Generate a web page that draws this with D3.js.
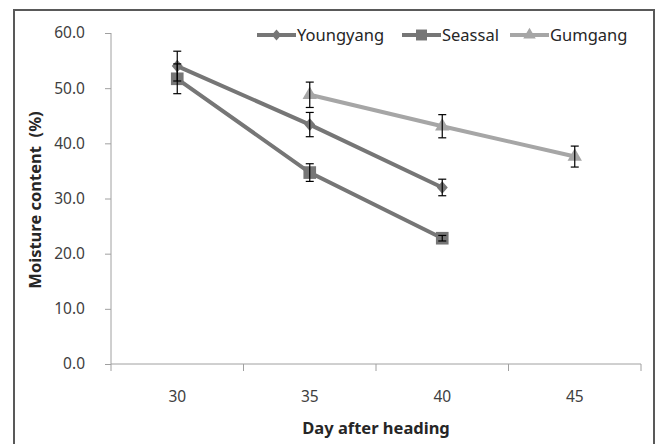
<!DOCTYPE html>
<html><head><meta charset="utf-8">
<script src="https://cdn.jsdelivr.net/npm/d3@7"></script>
<style>body{margin:0;background:#fff}svg{display:block}text{font-family:"Noto Sans",sans-serif}</style>
</head><body>
<svg id="c" width="658" height="444"></svg>
<script>
const days = ["30","35","40","45"];
const yTicks = [0,10,20,30,40,50,60];
const seriesNames = ["Youngyang","Seassal","Gumgang"];
const youngyang = [54.0, 43.4, 32.0, null];
const youngyangErr = [2.7, 2.2, 1.5, null];
const seassal = [51.7, 34.7, 22.8, null];
const seassalErr = [2.7, 1.6, 0.5, null];
const gumgang = [null, 48.8, 43.1, 37.6];
const gumgangErr = [null, 2.3, 2.1, 1.9];
const colors = ["#767676","#767676","#a6a6a6"];
const excelDiamond = {draw(ctx,size){const r=Math.sqrt(size)/2;ctx.moveTo(0,-r*1.15);ctx.lineTo(r,0);ctx.lineTo(0,r*1.15);ctx.lineTo(-r,0);ctx.closePath();}};
const shapes = [excelDiamond, d3.symbolSquare, d3.symbolTriangle];
const symSizes = [121, 160, 90];

const svg = d3.select("#c");
svg.append("rect").attr("x",14).attr("y",10).attr("width",640).attr("height",460)
  .attr("fill","none").attr("stroke","#595959").attr("stroke-width",2);

const x = d3.scaleBand().domain(days).range([111,641]);
const y = d3.scaleLinear().domain([0,60]).range([364,33]);

const gx = svg.append("g").attr("transform","translate(0,364)")
  .call(d3.axisBottom(x).tickSize(0).tickPadding(27));
gx.select(".domain").attr("stroke","#a0a0a0").attr("d","M111,0H641");
gx.selectAll("text").attr("font-size",15.5).attr("fill","#404040");
svg.append("g").selectAll("line").data([...days.map(d=>x(d)), 641]).join("line")
  .attr("x1",d=>d).attr("x2",d=>d).attr("y1",364).attr("y2",371)
  .attr("stroke","#a0a0a0");

const gy = svg.append("g").attr("transform","translate(111,0)")
  .call(d3.axisLeft(y).tickValues(yTicks).tickFormat(d3.format(".1f")).tickSize(6).tickPadding(20));
gy.select(".domain").attr("stroke","#a0a0a0").attr("d","M0,33V364");
gy.selectAll(".tick line").attr("stroke","#a0a0a0");
gy.selectAll("text").attr("font-size",15.5).attr("fill","#404040");

svg.append("text").attr("transform","translate(41,200) rotate(-90)")
  .attr("text-anchor","middle").attr("font-size",16.5).attr("font-weight","bold").attr("fill","#262626")
  .attr("xml:space","preserve").text("Moisture content  (%)");
svg.append("text").attr("x",376).attr("y",434).attr("text-anchor","middle")
  .attr("font-size",16.5).attr("font-weight","bold").attr("fill","#262626").text("Day after heading");

const data = [[youngyang,youngyangErr],[seassal,seassalErr],[gumgang,gumgangErr]];
const cx = d => x(d) + x.bandwidth()/2;
data.forEach(([vals,errs],i)=>{
  const pts = days.map((d,j)=>({d, v:vals[j], e:errs[j]})).filter(p=>p.v!=null);
  svg.append("path").datum(pts)
    .attr("d", d3.line().x(p=>cx(p.d)).y(p=>y(p.v)))
    .attr("fill","none").attr("stroke",colors[i]).attr("stroke-width",4);
  svg.append("g").selectAll("path").data(pts).join("path")
    .attr("transform",p=>`translate(${cx(p.d)},${y(p.v)})`)
    .attr("d", d3.symbol().type(shapes[i]).size(symSizes[i])).attr("fill",colors[i]);
});
data.forEach(([vals,errs],i)=>{
  const pts = days.map((d,j)=>({d, v:vals[j], e:errs[j]})).filter(p=>p.v!=null);
  const g = svg.append("g").attr("stroke","#000").attr("stroke-width",1.2);
  pts.forEach(p=>{
    const X = cx(p.d), t = y(p.v+p.e), b = y(p.v-p.e);
    g.append("line").attr("x1",X).attr("x2",X).attr("y1",t).attr("y2",b);
    g.append("line").attr("x1",X-4).attr("x2",X+4).attr("y1",t).attr("y2",t);
    g.append("line").attr("x1",X-4).attr("x2",X+4).attr("y1",b).attr("y2",b);
  });
});

const legX = [257, 402, 510];
const lg = svg.append("g");
seriesNames.forEach((n,i)=>{
  const g = lg.append("g").attr("transform",`translate(${legX[i]},35)`);
  g.append("line").attr("x1",0).attr("x2",39).attr("stroke",colors[i]).attr("stroke-width",4);
  g.append("path").attr("transform","translate(19.5,0)")
    .attr("d", d3.symbol().type(shapes[i]).size(symSizes[i]*0.75)).attr("fill",colors[i]);
  g.append("text").attr("x",40).attr("y",6).attr("font-size",16.5).attr("fill","#262626").text(n);
});
</script>
</body></html>
